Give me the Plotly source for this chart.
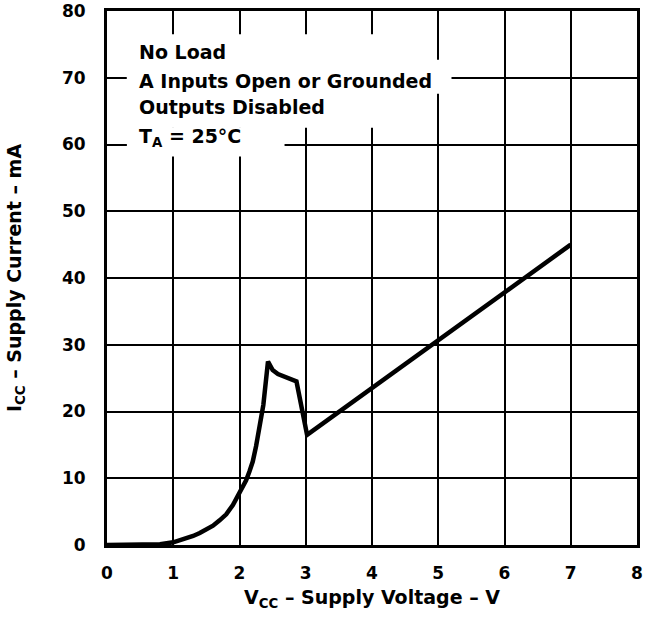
import plotly.graph_objects as go

# Data
vcc = [0.0, 0.6, 0.8, 1.0, 1.1, 1.2, 1.3, 1.4, 1.5, 1.6, 1.7, 1.8, 1.9, 2.0, 2.05, 2.1, 2.15, 2.2, 2.25,
       2.3, 2.36, 2.43, 2.5, 2.58, 2.72, 2.86, 3.02, 7.0]
icc = [0.0, 0.0, 0.1, 0.4, 0.7, 1.0, 1.35, 1.8, 2.3, 2.9, 3.7, 4.6, 6.0, 7.8, 8.7, 9.7, 11.0, 12.5, 14.8,
       17.5, 21.0, 27.5, 26.2, 25.6, 25.1, 24.5, 16.5, 45.0]

x_ticks = [0, 1, 2, 3, 4, 5, 6, 7, 8]
y_ticks = [0, 10, 20, 30, 40, 50, 60, 70, 80]

notes = ["No Load", "A Inputs Open or Grounded", "Outputs Disabled", "T<sub>A</sub> = 25°C"]
note_y = [73.8, 69.5, 65.6, 61.1]

FONT = "DejaVu Sans, Arial, sans-serif"

fig = go.Figure()
fig.add_trace(go.Scatter(x=vcc, y=icc, mode="lines",
                         line=dict(color="black", width=4.5, shape="linear"),
                         hoverinfo="skip", showlegend=False))

# white masks behind note text (cover gridlines)
masks = [
    (0.3, 4.6, 62.5, 76.5),
    (0.3, 5.2, 67.6, 72.7),
    (0.3, 2.68, 58.2, 62.6),
]
for x0, x1, y0, y1 in masks:
    fig.add_shape(type="rect", xref="x", yref="y", x0=x0, x1=x1, y0=y0, y1=y1,
                  fillcolor="white", line=dict(width=0), layer="between")

for t, yy in zip(notes, note_y):
    fig.add_annotation(x=0.45, y=yy, xref="x", yref="y", text=t, showarrow=False,
                       xanchor="left", yanchor="middle",
                       font=dict(family=FONT, size=19, color="black", weight="bold"))

axis_common = dict(showline=True, linecolor="black", linewidth=3, mirror=True,
                   showgrid=True, gridcolor="black", gridwidth=2, zeroline=False,
                   automargin=False, ticks="",
                   tickfont=dict(family=FONT, size=17, color="black", weight="bold"))

fig.update_xaxes(range=[0, 8], tickvals=x_ticks, ticktext=[str(v) for v in x_ticks],
                 ticklabelstandoff=11,
                 title=dict(text="V<sub>CC</sub> – Supply Voltage – V", standoff=9,
                            font=dict(family=FONT, size=19, color="black", weight="bold")),
                 **axis_common)
fig.update_yaxes(range=[0, 80], tickvals=y_ticks, ticktext=[str(v) for v in y_ticks],
                 ticklabelstandoff=15,
                 title=dict(text="I<sub>CC</sub> – Supply Current – mA", standoff=36,
                            font=dict(family=FONT, size=19, color="black", weight="bold")),
                 **axis_common)

fig.update_layout(width=648, height=620, margin=dict(l=107, r=11, t=11, b=75),
                  plot_bgcolor="white", paper_bgcolor="white")

fig.write_html("out.html", config={"displayModeBar": False},
               post_script="document.body.style.margin='0';")
